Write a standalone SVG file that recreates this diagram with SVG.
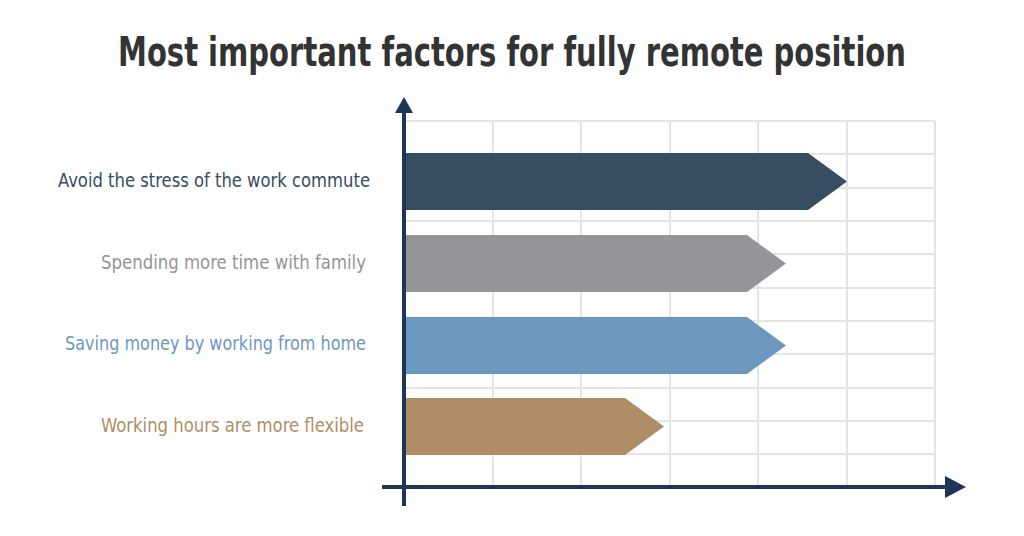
<svg xmlns="http://www.w3.org/2000/svg" width="1024" height="536" viewBox="0 0 1024 536">
<style>
.t{font-family:"DejaVu Sans Condensed","Liberation Sans",sans-serif;font-stretch:condensed}
.lb{font-size:20px;text-anchor:end}
.g{stroke:#e4e4e4;stroke-width:2;fill:none}
.ax{stroke:#1d3557;stroke-width:4;fill:none}
</style>
<rect width="1024" height="536" fill="#fff"/>
<text class="t" x="512" y="66" font-size="40" font-weight="bold" fill="#333" text-anchor="middle" textLength="788" lengthAdjust="spacingAndGlyphs">Most important factors for fully remote position</text>
<g id="grid" class="g">
<path d="M406 121H935M406 154H935M406 188H935M406 221H935M406 254H935M406 288H935M406 321H935M406 354H935M406 388H935M406 421H935M406 454H935"/>
<path d="M493 121V487M581 121V487M670 121V487M758 121V487M847 121V487M935 121V487"/>
</g>
<g id="bar1"><polygon points="406,153 808,153 847,181.5 808,210 406,210" fill="#374d62"/>
<text class="t lb" x="370" y="187" fill="#374d62" textLength="312" lengthAdjust="spacingAndGlyphs">Avoid the stress of the work commute</text></g>
<g id="bar2"><polygon points="406,235 747,235 786,263.5 747,292 406,292" fill="#949598"/>
<text class="t lb" x="366" y="269" fill="#949598" textLength="265" lengthAdjust="spacingAndGlyphs">Spending more time with family</text></g>
<g id="bar3"><polygon points="406,317 747,317 786,345.5 747,374 406,374" fill="#6c98c0"/>
<text class="t lb" x="366" y="350" fill="#6c98c0" textLength="301" lengthAdjust="spacingAndGlyphs">Saving money by working from home</text></g>
<g id="bar4"><polygon points="406,398 625,398 664,426.5 625,455 406,455" fill="#af8e67"/>
<text class="t lb" x="364" y="432" fill="#af8e67" textLength="263" lengthAdjust="spacingAndGlyphs">Working hours are more flexible</text></g>
<g id="connectors">
<path class="ax" d="M404 112V506M382 487H950"/>
<polygon points="395,113 404,97 413,113" fill="#1d3557"/>
<polygon points="945,476 966,487 945,498" fill="#1d3557"/>
</g>
</svg>
